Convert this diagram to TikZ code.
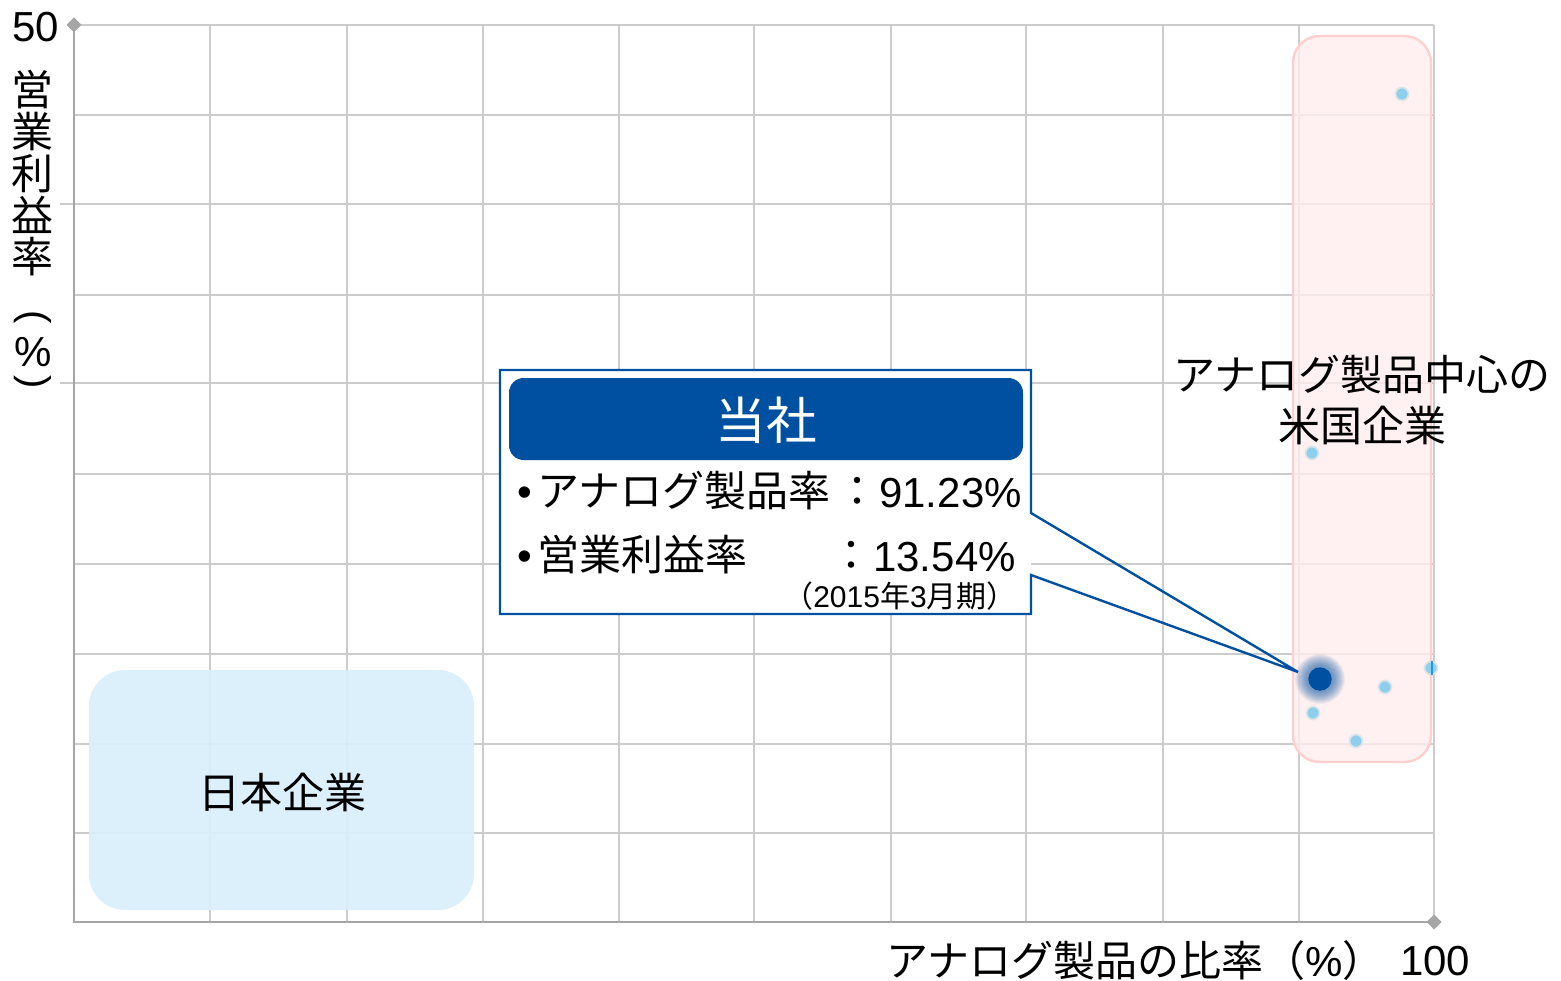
\documentclass[tikz,border=0pt]{standalone}
\usepackage{fontspec}
\usepackage{graphicx}
\setmainfont{Liberation Sans}
\newfontfamily\jp{Noto Sans CJK JP}
\definecolor{cblue}{HTML}{0050A2}
\definecolor{gridc}{HTML}{CCCCCC}
\definecolor{axisc}{HTML}{A6A6A6}
\definecolor{pinkfill}{HTML}{FFEDED}
\definecolor{pinkdraw}{HTML}{FFCFCF}
\definecolor{lbfill}{HTML}{D9EFFC}
\definecolor{dotc}{HTML}{8DCFEC}
\definecolor{dotrim}{HTML}{DCE4E8}
\definecolor{stripe}{HTML}{1A9CE0}
\tikzset{
  gridline/.style={draw=gridc, line width=1.5pt},
  axisline/.style={draw=axisc, line width=2.2pt},
  big/.style={inner sep=0pt, font=\fontsize{31.5pt}{36pt}\selectfont},
  huge/.style={inner sep=0pt, font=\fontsize{38pt}{44pt}\selectfont},
  small/.style={inner sep=0pt, font=\fontsize{22.5pt}{26pt}\selectfont},
  lightdot/.style={fill=dotc, draw=dotrim, line width=1.3pt},
  callline/.style={draw=cblue, line width=1.8pt, line join=miter},
}
\begin{document}
\begin{tikzpicture}[x=0.75pt,y=-0.75pt]
\useasboundingbox (0,0) rectangle (1561,981);
% grid
\foreach \x in {210,347,483,619,754,891,1026,1163,1299,1434}
  \draw[gridline] (\x,25) -- (\x,922);
\foreach \y in {25,115,204,295,383,474,564,654,744,833}
  \draw[gridline] (74,\y) -- (1434,\y);
\draw[gridline] (60,204) -- (74,204);
\draw[gridline] (60,383) -- (74,383);
% regions
\filldraw[fill=pinkfill, fill opacity=0.8, draw=pinkdraw, line width=1.8pt, rounded corners=20pt] (1293,36) rectangle (1431,762);
\fill[lbfill, fill opacity=0.92, rounded corners=27pt] (89,670) rectangle (474,910);
% axes
\draw[axisline] (74,25) -- (74,922) -- (1434,922);
\fill[axisc] (74,17.5) -- (81.5,25) -- (74,32.5) -- (66.5,25) -- cycle;
\fill[axisc] (1434,914.5) -- (1441.5,922) -- (1434,929.5) -- (1426.5,922) -- cycle;
% axis texts
\node[big, anchor=base] (y50) at (36,42) {50};
\node[big] (yl1) at (33,90) {\jp 営};
\node[big] (yl2) at (33,132) {\jp 業};
\node[big] (yl3) at (33,174) {\jp 利};
\node[big] (yl4) at (33,215) {\jp 益};
\node[big] (yl5) at (33,257) {\jp 率};
\node[inner sep=0pt, font=\fontsize{30pt}{34pt}\selectfont] (yl6) at (33,317) {\rotatebox{-90}{(}};
\node[big] (yl7) at (33,352) {\%};
\node[inner sep=0pt, font=\fontsize{30pt}{34pt}\selectfont] (yl8) at (33,382) {\rotatebox{-90}{)}};
\node[big, anchor=base west] (xlab) at (886,976) {{\jp アナログ製品の比率（}\%{\jp ）}};
\node[big, anchor=base west] (x100) at (1400,975) {100};
% region labels
\node[big] (us1) at (1362,375) {\jp アナログ製品中心の};
\node[big] (us2) at (1362,425) {\jp 米国企業};
\node[big] (jp) at (282,792) {\jp 日本企業};
% dots
\filldraw[lightdot] (1431,668) circle (6.5);
\draw[stripe, line width=2pt] (1432,661) -- (1432,675);
\filldraw[lightdot] (1402,94) circle (6.5);
\filldraw[lightdot] (1312,453) circle (6.5);
\filldraw[lightdot] (1385,687) circle (6.5);
\filldraw[lightdot] (1313,713) circle (6.5);
\filldraw[lightdot] (1356,741) circle (6.5);
\foreach \r in {12,...,25}
  \fill[cblue, fill opacity=0.06] (1320,679) circle (\r);
\node[circle, fill=cblue, minimum size=17.5pt, inner sep=0pt] (our) at (1320,679) {};
\coordinate (tip) at (1298,672);
% callout
\fill[white] (500,370) rectangle (1031,614);
\coordinate (cu) at (1031,513);
\coordinate (cl) at (1031,575);
\draw[callline] (cu) -- (1031,370) -- (500,370) -- (500,614) -- (1031,614) -- (cl) -- (tip) -- cycle;
\fill[cblue, rounded corners=11pt] (509,378) rectangle (1023,460);
\node[huge, text=white] (head) at (766,420) {\jp 当社};
\node[big, anchor=base west] (l1a) at (517,506) {•\hspace{4pt}{\jp アナログ製品率}};
\node[big, anchor=base] (l1b) at (857,506) {\jp ：};
\node[big, anchor=base west] (l1c) at (879,507) {91.23\%};
\node[big, anchor=base west] (l2a) at (517,570) {•\hspace{4pt}{\jp 営業利益率}};
\node[big, anchor=base] (l2b) at (851,570) {\jp ：};
\node[big, anchor=base west] (l2c) at (873,571) {13.54\%};
\node[small, anchor=base east] (l3) at (1017,607) {{\jp （}2015{\jp 年}3{\jp 月期）}};
\end{tikzpicture}
\end{document}
